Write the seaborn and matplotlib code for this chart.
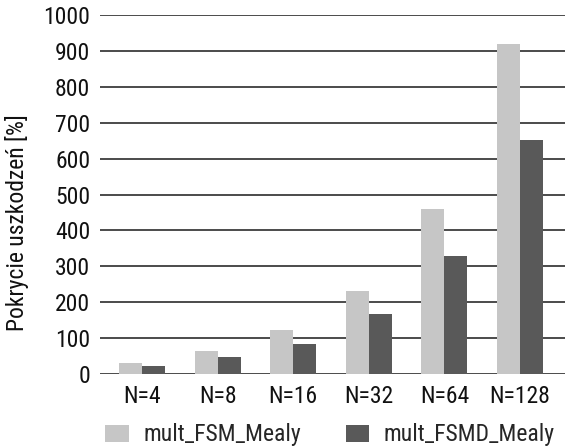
import matplotlib
matplotlib.use("Agg")
import matplotlib.pyplot as plt
import seaborn as sns
import pandas as pd
from matplotlib import font_manager as fm

categories = ["N=4", "N=8", "N=16", "N=32", "N=64", "N=128"]
series_names = ["mult_FSM_Mealy", "mult_FSMD_Mealy"]
fsm_values = [32, 64, 123, 231, 460, 920]
fsmd_values = [23, 47, 83, 167, 329, 653]
y_ticks = [0, 100, 200, 300, 400, 500, 600, 700, 800, 900, 1000]
colors = ["#c6c6c6", "#595959"]

df = pd.DataFrame({
    "cat": categories * 2,
    "series": [series_names[0]] * len(categories) + [series_names[1]] * len(categories),
    "val": fsm_values + fsmd_values,
})

sns.set_theme(style="white")
installed = {f.name for f in fm.fontManager.ttflist}
fams = [f for f in ["Roboto Condensed", "Liberation Sans Narrow", "Roboto", "DejaVu Sans"] if f in installed]
plt.rcParams["font.family"] = fams

FS = 17
fig = plt.figure(figsize=(5.66, 4.47), dpi=100)
ax = fig.add_axes([100 / 566, 1 - 374 / 447, 465 / 566, 359 / 447])
sns.barplot(data=df, x="cat", y="val", hue="series", order=categories,
            hue_order=series_names, palette=colors, width=0.61, gap=0,
            saturation=1, ax=ax, legend=True)
for p in ax.patches:
    p.set_edgecolor("none")
ax.set_ylim(0, 1000)
ax.set_yticks(y_ticks)
ax.yaxis.grid(True, color="#1a1a1a", linewidth=1.1)
ax.set_axisbelow(True)
for s in ax.spines.values():
    s.set_visible(False)
ax.tick_params(axis="both", length=0, labelsize=FS, colors="#111111")
ax.tick_params(axis="y", pad=7)
ax.tick_params(axis="x", pad=8)
ax.set_xlabel("")
ax.set_ylabel("Pokrycie uszkodzeń [%]", fontsize=FS, color="#111111")
ax.yaxis.set_label_coords(-0.152, 0.423)
ax.set_xlim(-0.556, 5.595)
handles, labels = ax.get_legend_handles_labels()
ax.get_legend().remove()
fig.legend(handles, labels, loc="center", bbox_to_anchor=(0.583, 0.027),
           bbox_transform=fig.transFigure, ncol=2, frameon=False,
           fontsize=FS, handlelength=1.0, handleheight=0.75, columnspacing=1.9,
           handletextpad=0.6, borderpad=0, borderaxespad=0)
fig.savefig("out.png", dpi=100)
